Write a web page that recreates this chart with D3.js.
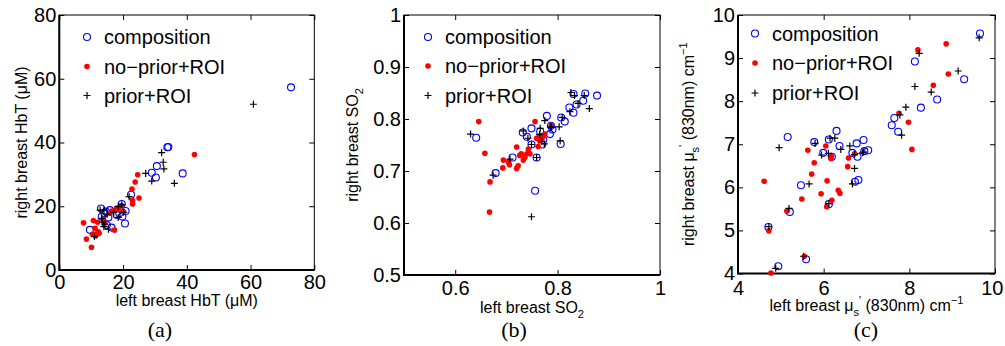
<!DOCTYPE html>
<html><head><meta charset="utf-8">
<script src="https://cdn.jsdelivr.net/npm/d3@7"></script>
<style>body{margin:0;background:#fff}svg{display:block}</style>
</head><body>
<svg id="fig" width="1005" height="346"></svg>
<script>
// ---------- data ----------
const legendLabels = ["composition", "no\u2212prior+ROI", "prior+ROI"];
const panelTags = ["(a)", "(b)", "(c)"];

// panel (a): HbT (µM) left vs right
const hbtComposition = [[9.6,12.6],[13.1,19.3],[13.3,16.7],[14.2,17.8],[14.6,18.3],[14.9,14.1],[15.4,16.5],[15.9,18.8],[16.4,13.3],[18.0,17.3],[18.8,17.8],[19.8,16.8],[19.6,20.7],[20.8,18.5],[20.6,14.6],[22.5,23.6],[29.0,30.5],[30.3,29.0],[30.6,32.6],[33.9,38.5],[34.2,38.6],[38.7,30.3],[72.7,57.3]];
const hbtNoPrior = [[7.6,14.8],[8.5,9.7],[10.1,7.1],[10.4,11.2],[10.7,15.5],[11.2,13.1],[11.4,10.7],[11.7,11.3],[12.2,12.0],[12.0,15.0],[12.5,11.5],[13.8,15.9],[14.3,14.8],[15.9,17.8],[16.5,18.5],[17.3,12.5],[18.0,19.4],[18.6,19.0],[19.5,20.2],[20.1,18.3],[23.0,21.8],[23.0,20.7],[22.8,25.4],[25.0,22.6],[23.8,27.6],[24.6,29.9],[42.4,36.2]];
const hbtPrior = [[11.0,10.5],[12.8,18.8],[14.0,18.8],[13.3,16.2],[13.5,15.0],[14.3,14.4],[14.0,13.6],[15.0,17.5],[15.4,12.8],[17.1,18.1],[18.5,16.5],[18.5,19.9],[19.6,20.5],[20.2,18.1],[21.9,23.0],[27.1,30.3],[29.0,27.9],[32.1,36.8],[32.6,33.8],[32.8,31.7],[36.1,27.2],[60.9,52.0]];
const hbtTicks = [0, 20, 40, 60, 80];

// panel (b): SO2 left vs right
const so2Composition = [[0.641,0.764],[0.679,0.696],[0.712,0.726],[0.732,0.774],[0.740,0.766],[0.749,0.782],[0.749,0.751],[0.759,0.726],[0.756,0.662],[0.766,0.776],[0.768,0.766],[0.770,0.751],[0.772,0.760],[0.779,0.806],[0.785,0.771],[0.787,0.787],[0.790,0.780],[0.807,0.803],[0.814,0.795],[0.806,0.752],[0.823,0.822],[0.831,0.812],[0.831,0.848],[0.837,0.828],[0.850,0.835],[0.854,0.849],[0.877,0.845]];
const so2NoPrior = [[0.646,0.795],[0.658,0.734],[0.668,0.679],[0.667,0.621],[0.693,0.706],[0.694,0.721],[0.704,0.717],[0.706,0.712],[0.720,0.746],[0.720,0.705],[0.723,0.710],[0.726,0.730],[0.729,0.733],[0.733,0.721],[0.736,0.726],[0.740,0.733],[0.743,0.742],[0.746,0.733],[0.756,0.795],[0.759,0.763],[0.762,0.747],[0.765,0.758],[0.770,0.765],[0.775,0.771],[0.788,0.788]];
const so2Prior = [[0.630,0.771],[0.674,0.692],[0.707,0.723],[0.733,0.777],[0.742,0.763],[0.749,0.751],[0.759,0.726],[0.749,0.612],[0.765,0.770],[0.766,0.782],[0.769,0.757],[0.774,0.752],[0.775,0.797],[0.786,0.785],[0.788,0.784],[0.803,0.785],[0.805,0.758],[0.809,0.803],[0.824,0.814],[0.826,0.851],[0.833,0.845],[0.840,0.830],[0.852,0.845],[0.862,0.820]];
const so2XTicks = [0.6, 0.8, 1];
const so2YTicks = [0.5, 0.6, 0.7, 0.8, 0.9, 1];

// panel (c): reduced scattering (830nm) left vs right
const musComposition = [[4.94,4.17],[4.71,5.08],[5.21,5.43],[5.59,4.33],[5.16,7.17],[5.47,6.05],[5.78,7.05],[5.99,6.80],[6.12,7.11],[6.19,6.71],[6.30,7.31],[6.12,5.61],[6.37,6.96],[6.67,6.80],[6.73,6.13],[6.81,6.17],[6.79,6.71],[6.77,7.02],[6.93,7.10],[6.95,6.84],[7.04,6.86],[7.59,7.44],[7.65,7.61],[7.74,7.29],[8.13,8.92],[8.27,7.85],[8.65,8.04],[9.28,8.51],[9.65,9.57]];
const musNoPrior = [[4.77,4.01],[4.72,4.99],[4.61,6.14],[5.14,5.45],[5.55,4.40],[5.49,5.73],[5.63,6.86],[5.72,6.31],[5.78,6.57],[5.94,5.85],[6.05,6.96],[6.08,6.15],[6.07,5.55],[6.17,6.67],[6.18,6.72],[6.19,5.70],[6.34,5.93],[6.38,5.86],[6.58,6.68],[6.56,6.48],[6.72,6.78],[7.76,7.72],[7.98,7.51],[8.06,6.88],[8.20,9.19],[8.56,8.37],[8.86,9.33],[8.91,8.63]];
const musPrior = [[4.88,4.12],[4.72,5.09],[5.19,5.51],[5.53,4.40],[4.96,6.92],[5.66,6.08],[5.80,7.02],[5.95,6.75],[6.11,6.79],[6.15,7.14],[6.26,7.14],[6.12,5.62],[6.40,6.88],[6.61,6.96],[6.72,6.44],[6.67,6.08],[6.72,6.76],[6.91,6.80],[6.93,6.82],[7.78,7.68],[7.82,7.21],[7.92,7.86],[8.13,8.34],[8.23,9.11],[8.51,8.21],[9.14,8.70],[9.63,9.47]];
const musXTicks = [4, 6, 8, 10];
const musYTicks = [4, 5, 6, 7, 8, 9, 10];

// ---------- layout ----------
const svg = d3.select("#fig");
const FONT = "'Liberation Sans', Arial, Helvetica, sans-serif";
const BLUE = "#0000ff", RED = "#ff0000", BLACK = "#000";

const panels = [
  {
    left: 59.3, right: 314.3, top: 15, bottom: 270,
    xdom: [0, 80], ydom: [0, 80], xt: hbtTicks, yt: hbtTicks,
    series: [hbtComposition, hbtNoPrior, hbtPrior],
    xpad: 5, legX: 87, legY: [37, 66.5, 95.5],
    xlab: [{t: "left breast HbT (\u03bcM)"}], xlabY: 306,
    ylab: [{t: "right breast HbT (\u03bcM)"}], ylabX: 27,
    tagX: 160
  },
  {
    left: 404, right: 660, top: 15, bottom: 275,
    xdom: [0.5, 1], ydom: [0.5, 1], xt: so2XTicks, yt: so2YTicks,
    series: [so2Composition, so2NoPrior, so2Prior],
    xpad: 6, legX: 428, legY: [37, 66, 95.5],
    xlab: [{t: "left breast SO"}, {t: "2", sub: true}], xlabY: 313,
    ylab: [{t: "right breast SO"}, {t: "2", sub: true}], ylabX: 358,
    tagX: 514
  },
  {
    left: 738, right: 995, top: 15, bottom: 273.5,
    xdom: [4, 10], ydom: [4, 10], xt: musXTicks, yt: musYTicks,
    series: [musComposition, musNoPrior, musPrior],
    xpad: 7, legX: 755, legY: [33.5, 63, 93],
    xlab: [{t: "left breast \u03bc"}, {t: "s", sub: true}, {t: "'", sup: true}, {t: " (830nm) cm"}, {t: "\u22121", sup: true}], xlabY: 311,
    ylab: [{t: "right breast \u03bc"}, {t: "s", sub: true}, {t: "'", sup: true}, {t: " (830nm) cm"}, {t: "\u22121", sup: true}], ylabX: 694,
    tagX: 866
  }
];

function addRich(textSel, parts) {
  parts.forEach(p => {
    const ts = textSel.append("tspan").text(p.t);
    if (p.sub) ts.attr("font-size", 11).attr("baseline-shift", -5);
    if (p.sup) ts.attr("font-size", 11).attr("baseline-shift", 7);
  });
}

panels.forEach((P, i) => {
  const x = d3.scaleLinear().domain(P.xdom).range([P.left, P.right]);
  const y = d3.scaleLinear().domain(P.ydom).range([P.bottom, P.top]);
  const g = svg.append("g");

  // ticks (inward, mirrored on all sides)
  const fmt = d => String(+d.toFixed(2));
  const ax = [
    g.append("g").attr("transform", `translate(0,${P.bottom})`)
      .call(d3.axisBottom(x).tickValues(P.xt).tickSize(-5).tickSizeOuter(0).tickPadding(P.xpad).tickFormat(fmt)),
    g.append("g").attr("transform", `translate(0,${P.top})`)
      .call(d3.axisTop(x).tickValues(P.xt).tickSize(-5).tickSizeOuter(0).tickFormat("")),
    g.append("g").attr("transform", `translate(${P.left},0)`)
      .call(d3.axisLeft(y).tickValues(P.yt).tickSize(-5).tickSizeOuter(0).tickPadding(3).tickFormat(fmt)),
    g.append("g").attr("transform", `translate(${P.right},0)`)
      .call(d3.axisRight(y).tickValues(P.yt).tickSize(-5).tickSizeOuter(0).tickFormat(""))
  ];
  ax.forEach(a => {
    a.select(".domain").remove();
    a.selectAll("line").attr("stroke", "#000").attr("stroke-width", 1);
    a.selectAll("text").attr("font-family", FONT).attr("font-size", 20).attr("fill", "#000");
  });
  // keep the right-most x tick label inside the picture
  ax[0].selectAll(".tick text").filter(d => x(d) > 985)
    .attr("text-anchor", "end").attr("x", 1003 - P.right);

  // frame
  g.append("rect").attr("x", P.left).attr("y", P.top)
    .attr("width", P.right - P.left).attr("height", P.bottom - P.top)
    .attr("fill", "none").attr("stroke", "#000").attr("stroke-width", 1);
  g.append("path")
    .attr("d", `M${P.left},${P.top}V${P.bottom}H${P.right}`)
    .attr("fill", "none").attr("stroke", "#000").attr("stroke-width", 2);

  // markers
  const drawers = [
    (sel) => sel.append("circle").attr("r", 3.5).attr("fill", "none").attr("stroke", BLUE).attr("stroke-width", 1.1),
    (sel) => sel.append("circle").attr("r", 2.8).attr("fill", RED),
    (sel) => sel.append("path").attr("d", "M-3.5,0H3.5M0,-3.5V3.5").attr("stroke", BLACK).attr("stroke-width", 1.2)
  ];
  P.series.forEach((data, k) => {
    const pts = g.append("g").selectAll("g").data(data).enter().append("g")
      .attr("transform", d => `translate(${x(d[0])},${y(d[1])})`);
    drawers[k](pts);
  });

  // legend
  legendLabels.forEach((lab, k) => {
    const lg = g.append("g").attr("transform", `translate(${P.legX},${P.legY[k]})`);
    drawers[k](lg);
    lg.append("text").attr("x", 17).attr("y", 7).attr("font-family", FONT)
      .attr("font-size", 20).attr("fill", "#000").text(lab);
  });

  // axis labels
  const xl = g.append("text").attr("x", (P.left + P.right) / 2).attr("y", P.xlabY)
    .attr("text-anchor", "middle").attr("font-family", FONT).attr("font-size", 16).attr("fill", "#000");
  addRich(xl, P.xlab);
  const yl = g.append("text")
    .attr("transform", `translate(${P.ylabX},${(P.top + P.bottom) / 2}) rotate(-90)`)
    .attr("text-anchor", "middle").attr("font-family", FONT).attr("font-size", 16).attr("fill", "#000");
  addRich(yl, P.ylab);

  // panel tag
  g.append("text").attr("x", P.tagX).attr("y", 337).attr("text-anchor", "middle")
    .attr("font-family", "'Liberation Serif', 'Times New Roman', serif").attr("font-size", 22)
    .attr("fill", "#000").text(panelTags[i]);
});
</script>
</body></html>
